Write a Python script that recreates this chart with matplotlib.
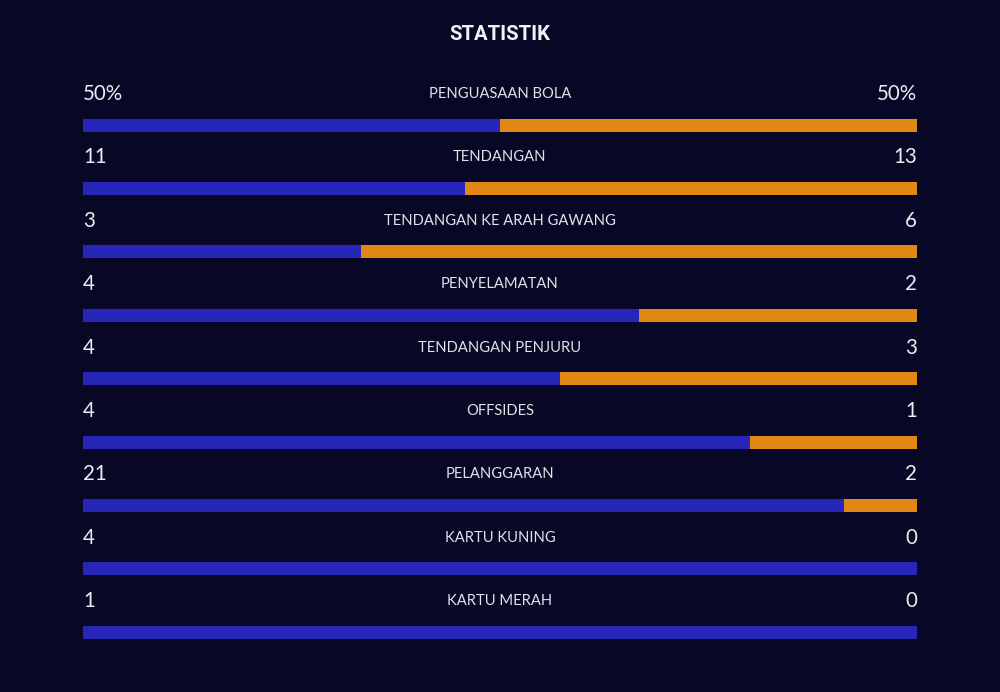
import matplotlib.pyplot as plt

# data
labels = ['PENGUASAAN BOLA', 'TENDANGAN', 'TENDANGAN KE ARAH GAWANG', 'PENYELAMATAN',
          'TENDANGAN PENJURU', 'OFFSIDES', 'PELANGGARAN', 'KARTU KUNING', 'KARTU MERAH']
home = [50, 11, 3, 4, 4, 4, 21, 4, 1]
away = [50, 13, 6, 2, 3, 1, 2, 0, 0]
home_txt = ['50%', '11', '3', '4', '4', '4', '21', '4', '1']
away_txt = ['50%', '13', '6', '2', '3', '1', '2', '0', '0']

BG = '#080826'
BLUE = '#2626b8'
ORANGE = '#e08716'

fig = plt.figure(figsize=(10, 6.92), dpi=100)
fig.patch.set_facecolor(BG)

fig.text(0.5, 1 - 35 / 692, 'STATISTIK', ha='center', va='center',
         fontsize=14.6, fontweight='bold', family='Roboto', color='#f2f2f5')

ax = fig.add_axes([0.083, 0, 0.834, 1])
ax.set_facecolor(BG)
ax.set_xlim(0, 1)
ax.set_ylim(692, 0)
ax.axis('off')

for i in range(len(labels)):
    yc = 125 + i * 63.4
    tot = home[i] + away[i]
    share = home[i] / tot
    ax.barh(yc, share, height=13, left=0, color=BLUE)
    ax.barh(yc, 1 - share, height=13, left=share, color=ORANGE)
    ty = yc - 31
    ax.text(0, ty, home_txt[i], ha='left', va='center', fontsize=14.8,
            family='Lato', color='#ececf2')
    ax.text(1, ty, away_txt[i], ha='right', va='center', fontsize=14.8,
            family='Lato', color='#ececf2')
    ax.text(0.5, ty, labels[i], ha='center', va='center', fontsize=10.6,
            family='Lato', color='#e2e2ea')

plt.savefig('out.png', facecolor=BG)
